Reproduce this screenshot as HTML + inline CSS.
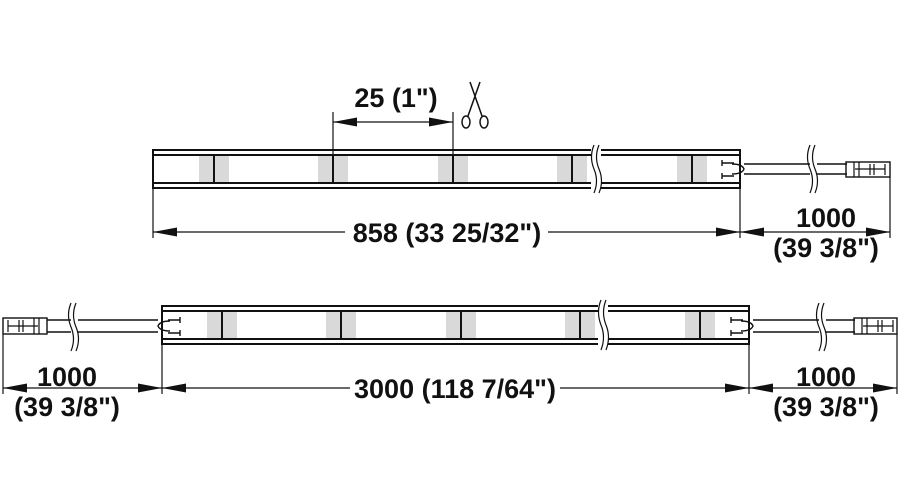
<!DOCTYPE html>
<html><head><style>html,body{margin:0;padding:0;background:#fff}svg{display:block}</style></head><body>
<svg width="900" height="500" viewBox="0 0 900 500" xmlns="http://www.w3.org/2000/svg" font-family="Liberation Sans, Arial, sans-serif" font-weight="bold">
<defs>
<marker id="a" viewBox="0 0 24 9" refX="24" refY="4.5" markerWidth="24" markerHeight="9" markerUnits="userSpaceOnUse" orient="auto-start-reverse"><path d="M0,0 L24,4.5 L0,9 Z" fill="#111"/></marker>
</defs>
<g stroke="#111" fill="none">
<!-- TOP STRIP -->
<g fill="#d9d9d9" stroke="none">
<rect x="199" y="155" width="30" height="28"/><rect x="318" y="155" width="30" height="28"/><rect x="438" y="155" width="30" height="28"/><rect x="557" y="155" width="30" height="28"/><rect x="677" y="155" width="30" height="28"/>
</g>
<rect x="153" y="150" width="587" height="38" stroke-width="2"/>
<line x1="153" y1="155" x2="740" y2="155" stroke-width="2"/>
<line x1="153" y1="183" x2="740" y2="183" stroke-width="2"/>
<g stroke-width="2"><line x1="214" y1="155" x2="214" y2="183"/><line x1="333" y1="155" x2="333" y2="183"/><line x1="453" y1="155" x2="453" y2="183"/><line x1="572" y1="155" x2="572" y2="183"/><line x1="692" y1="155" x2="692" y2="183"/></g>
<rect x="591" y="145" width="10" height="48" fill="#fff" stroke="none"/>
<path d="M594,145 q-5,12 0,24 q5,12 0,24 M599,145 q-5,12 0,24 q5,12 0,24" stroke-width="1.2"/>
<path d="M722,163 h12 M722,176 h12 M722,160 v6 M722,173 v6 M732,164 q10,0 12,5 q-2,5 -12,5" stroke-width="1.4"/>
<path d="M744,164 h66 M744,174 h66 M817,164 h30 M817,174 h30" stroke-width="1.4"/>
<path d="M810,145 q-5,12 0,24 q5,12 0,24 M815,145 q-5,12 0,24 q5,12 0,24" stroke-width="1.2"/>
<rect x="846" y="162" width="44" height="15" stroke-width="1.4"/>
<path d="M854,162 v15 M859,162 v15 M855,169 h30 M870,164 v11 M874,164 v11 M885,164 v11" stroke-width="1.2"/>
<g stroke-width="1.2">
<line x1="153" y1="188" x2="153" y2="238"/><line x1="740" y1="188" x2="740" y2="238"/><line x1="890" y1="177" x2="890" y2="238"/>
<line x1="333" y1="112" x2="333" y2="155"/><line x1="453" y1="112" x2="453" y2="155"/>
<line x1="153" y1="232" x2="345" y2="232" marker-start="url(#a)"/><line x1="548" y1="232" x2="740" y2="232" marker-end="url(#a)"/>
<line x1="740" y1="232" x2="890" y2="232" marker-start="url(#a)" marker-end="url(#a)"/>
<line x1="333" y1="122" x2="453" y2="122" marker-start="url(#a)" marker-end="url(#a)"/>
</g>
<g stroke-width="1.5"><ellipse cx="466" cy="122" rx="4" ry="6"/><ellipse cx="484" cy="122" rx="4" ry="6"/><path d="M468,116 L480,82 M482,116 L470,82"/></g>
<!-- BOTTOM STRIP -->
<g fill="#d9d9d9" stroke="none">
<rect x="207" y="311" width="30" height="28"/><rect x="326" y="311" width="30" height="28"/><rect x="446" y="311" width="30" height="28"/><rect x="565" y="311" width="30" height="28"/><rect x="685" y="311" width="30" height="28"/>
</g>
<rect x="162" y="306" width="587" height="38" stroke-width="2"/>
<line x1="162" y1="311" x2="749" y2="311" stroke-width="2"/>
<line x1="162" y1="339" x2="749" y2="339" stroke-width="2"/>
<g stroke-width="2"><line x1="222" y1="311" x2="222" y2="339"/><line x1="341" y1="311" x2="341" y2="339"/><line x1="461" y1="311" x2="461" y2="339"/><line x1="580" y1="311" x2="580" y2="339"/><line x1="700" y1="311" x2="700" y2="339"/></g>
<rect x="598" y="300" width="10" height="50" fill="#fff" stroke="none"/>
<path d="M601,300 q-5,12 0,25 q5,12 0,25 M606,300 q-5,12 0,25 q5,12 0,25" stroke-width="1.2"/>
<path d="M731,320 h12 M731,333 h12 M731,317 v6 M731,330 v6 M741,321 q10,0 12,5 q-2,5 -12,5" stroke-width="1.4"/>
<path d="M753,320 h66 M753,332 h66 M826,320 h29 M826,332 h29" stroke-width="1.4"/>
<path d="M819,303 q-5,12 0,24 q5,12 0,24 M824,303 q-5,12 0,24 q5,12 0,24" stroke-width="1.2"/>
<rect x="854" y="318" width="43" height="16" stroke-width="1.4"/>
<path d="M862,318 v16 M867,318 v16 M863,326 h30 M878,320 v12 M882,320 v12 M893,320 v12" stroke-width="1.2"/>
<path d="M180,320 h-12 M180,333 h-12 M180,317 v6 M180,330 v6 M170,321 q-10,0 -12,5 q2,5 12,5" stroke-width="1.4"/>
<path d="M158,320 h-80 M158,332 h-80 M71,320 h-24 M71,332 h-24" stroke-width="1.4"/>
<path d="M71,303 q-5,12 0,24 q5,12 0,24 M76,303 q-5,12 0,24 q5,12 0,24" stroke-width="1.2"/>
<rect x="3" y="318" width="44" height="16" stroke-width="1.4"/>
<path d="M39,318 v16 M34,318 v16 M8,326 h30 M23,320 v12 M19,320 v12 M8,320 v12" stroke-width="1.2"/>
<g stroke-width="1.2">
<line x1="3" y1="334" x2="3" y2="394"/><line x1="162" y1="344" x2="162" y2="394"/><line x1="749" y1="344" x2="749" y2="394"/><line x1="897" y1="334" x2="897" y2="394"/>
<line x1="3" y1="388" x2="162" y2="388" marker-start="url(#a)" marker-end="url(#a)"/>
<line x1="162" y1="388" x2="350" y2="388" marker-start="url(#a)"/><line x1="560" y1="388" x2="749" y2="388" marker-end="url(#a)"/>
<line x1="749" y1="388" x2="897" y2="388" marker-start="url(#a)" marker-end="url(#a)"/>
</g>
</g>
<g font-size="27" fill="#111" text-anchor="middle">
<text x="396" y="107">25 (1")</text>
<text x="447" y="242">858 (33 25/32")</text>
<text x="826" y="227">1000</text>
<text x="826" y="257">(39 3/8")</text>
<text x="455" y="398">3000 (118 7/64")</text>
<text x="67" y="386">1000</text>
<text x="67" y="416">(39 3/8")</text>
<text x="826" y="386">1000</text>
<text x="826" y="416">(39 3/8")</text>
</g>
</svg>
</body></html>
